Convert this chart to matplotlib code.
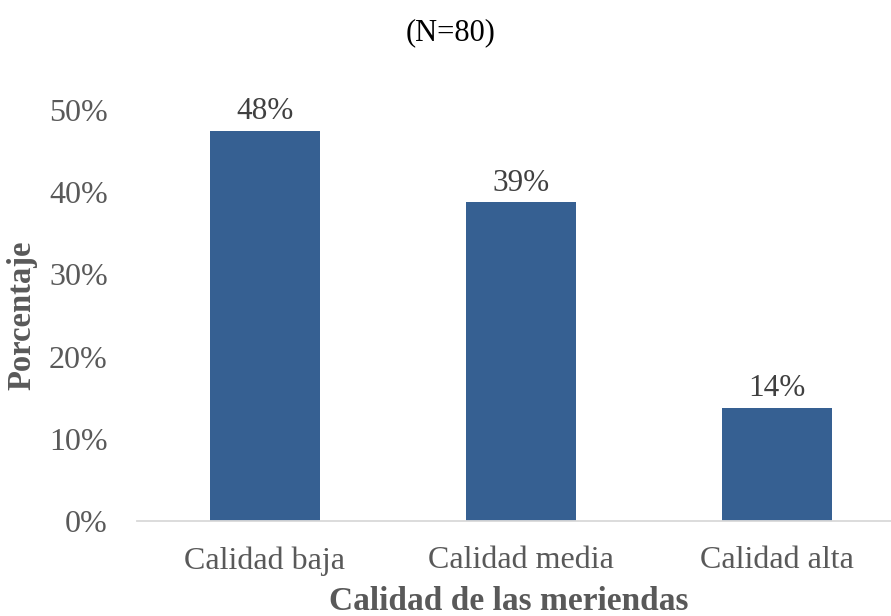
import matplotlib
matplotlib.use("Agg")
import matplotlib.pyplot as plt
from matplotlib.ticker import PercentFormatter

categories = ["Calidad baja", "Calidad media", "Calidad alta"]
values = [0.475, 0.3875, 0.1375]
value_labels = ["48%", "39%", "14%"]
yticks = [0, 0.1, 0.2, 0.3, 0.4, 0.5]

plt.rcParams['font.family'] = ['Liberation Serif', 'DejaVu Serif']
gray = '#595959'

fig = plt.figure(figsize=(8.91, 6.16), dpi=100)
ax = fig.add_axes([137/891, (616-521)/616, 768/891, (521-110)/616])

x = list(range(len(categories)))
bars = ax.bar(x, values, width=0.426, color='#366092', zorder=2)
for xi, v, lab in zip(x, values, value_labels):
    ax.text(xi, v + 0.006, lab, ha='center', va='bottom', fontsize=22.5, color='#404040', clip_on=False)

ax.set_xlim(-0.5, 2.5)
ax.set_ylim(0, 0.5)
ax.set_yticks(yticks)
ax.yaxis.set_major_formatter(PercentFormatter(1.0, decimals=0))
ax.set_xticks(x)
ax.set_xticklabels(categories)
ax.tick_params(axis='both', length=0, labelsize=23, labelcolor=gray)
ax.tick_params(axis='y', pad=21)
ax.tick_params(axis='x', pad=18)

for s in ['top', 'right', 'left']:
    ax.spines[s].set_visible(False)
ax.spines['bottom'].set_color('#d9d9d9')
ax.spines['bottom'].set_linewidth(1.3)

fig.text(451/891, 1 - 33/616, "(N=80)", ha='center', va='center', fontsize=22, color='black')
fig.text(509/891, 1 - 601/616, "Calidad de las meriendas", ha='center', va='center',
         fontsize=24, fontweight='bold', color=gray)
fig.text(22/891, 1 - 315/616, "Porcentaje", ha='center', va='center', rotation=90,
         fontsize=23.5, fontweight='bold', color=gray)

fig.savefig("out.png", dpi=100)
